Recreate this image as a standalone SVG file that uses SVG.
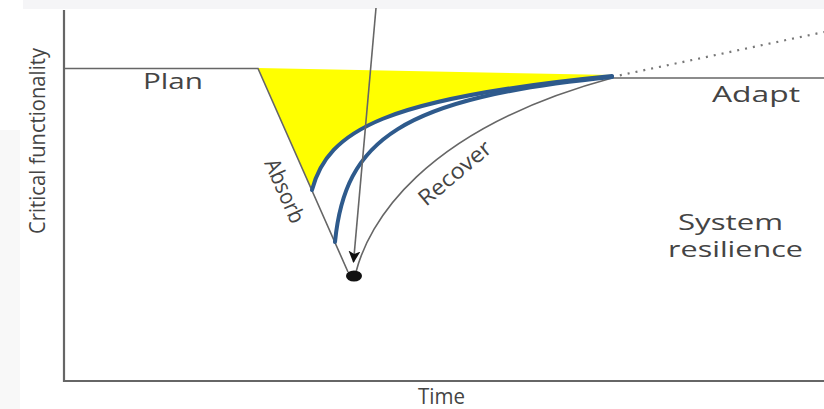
<svg xmlns="http://www.w3.org/2000/svg" width="824" height="409" viewBox="0 0 824 409">
  <style>
    .axis { stroke: #666; stroke-width: 2.2; fill: none; }
    .gline { stroke: #666; stroke-width: 1.6; fill: none; }
    .blue { stroke: #2e5a8c; stroke-width: 4; fill: none; stroke-linecap: round; }
    .lbl { font-family: "Open Sans", "Noto Sans", "DejaVu Sans", sans-serif; fill: #444; font-size: 22px; }
  </style>
  <defs>
    <marker id="arrow" viewBox="0 0 12 12" refX="11" refY="6" markerWidth="12" markerHeight="12" markerUnits="userSpaceOnUse" orient="auto">
      <path d="M0,0 L12,6 L0,12 L3,6 Z" fill="#111"/>
    </marker>
  </defs>
  <rect width="824" height="409" fill="#ffffff"/>
  <rect x="23" y="0" width="801" height="9" fill="#f5f5f7"/>
  <rect x="0" y="130" width="20" height="279" fill="#f8f8f8"/>

  <g id="axes">
    <path class="axis" d="M64,10 L64,381 L824,381"/>
  </g>

  <g id="resilience-area">
    <path d="M258,68 L612,75 C385,98 328,130 312,190 Z" fill="#ffff00"/>
  </g>

  <g id="connectors">
    <path class="gline" d="M64,68.5 L258,68.5 L348,272"/>
    <path class="gline" d="M356,272 C368,225 420,130 612,78"/>
    <path class="gline" d="M612,78 L824,78"/>
    <path d="M612,77 L824,32" stroke="#777" stroke-width="2.2" stroke-dasharray="2 6" fill="none"/>
    <path class="blue" d="M312,190 C328,130 385,98 612,76"/>
    <path class="blue" d="M335,242 C345,140 400,98 612,77"/>
    <path class="gline" d="M376,8 L353.5,262" marker-end="url(#arrow)"/>
  </g>

  <g id="failure-point">
    <ellipse cx="354" cy="276" rx="8" ry="5.5" fill="#111"/>
  </g>

  <g id="labels">
    <text class="lbl" x="143" y="89" textLength="60" lengthAdjust="spacingAndGlyphs">Plan</text>
    <text class="lbl" x="712" y="102" textLength="88" lengthAdjust="spacingAndGlyphs">Adapt</text>
    <text class="lbl" x="678" y="230" font-size="19.6" textLength="105" lengthAdjust="spacingAndGlyphs">System</text>
    <text class="lbl" x="668" y="257" font-size="19.6" textLength="135" lengthAdjust="spacingAndGlyphs">resilience</text>
    <text class="lbl" x="418" y="404" font-size="19" textLength="47" lengthAdjust="spacingAndGlyphs">Time</text>
    <text class="lbl" transform="translate(45,234) rotate(-90)" font-size="29" textLength="186" lengthAdjust="spacingAndGlyphs">Critical functionality</text>
    <text class="lbl" transform="translate(264,163) rotate(66)" font-size="19" textLength="68" lengthAdjust="spacingAndGlyphs">Absorb</text>
    <text class="lbl" transform="translate(426,207) rotate(-40)" font-size="19" textLength="88" lengthAdjust="spacingAndGlyphs">Recover</text>
  </g>
</svg>
